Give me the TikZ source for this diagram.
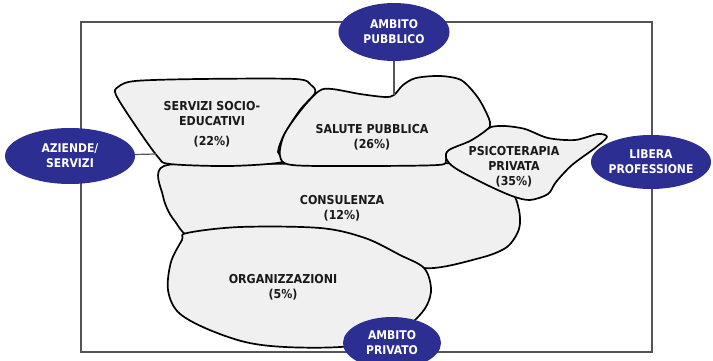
\documentclass[tikz,border=0pt]{standalone}
\usepackage{fontspec}
\setmainfont{DejaVu Sans Condensed}
\usetikzlibrary{shapes.geometric}

\definecolor{navy}{RGB}{44,46,145}
\definecolor{blobgray}{RGB}{240,240,240}
\definecolor{framegray}{RGB}{85,85,85}

\begin{document}
\begin{tikzpicture}[
    x=1pt, y=-1pt,
    blob/.style={draw=black, fill=blobgray, line width=1.7pt, line join=round},
    ambito/.style={ellipse, fill=navy, text=white, inner sep=0pt, align=center, font=\bfseries\fontsize{12}{15}\selectfont},
    lbl/.style={align=center, text=black!90, font=\bfseries\fontsize{12.3}{15}\selectfont},
    frame/.style={draw=framegray, line width=1.2pt},
    link/.style={draw=framegray, line width=1.2pt}
]
\useasboundingbox (0,0) rectangle (713,361);

% cornice
\draw[frame] (81,22) rectangle (652,352);

% aree
\filldraw[blob] plot[smooth cycle, tension=0.5] coordinates {(164,166) (250,164) (440,163) (475,168) (510,190) (519,210) (519,229) (507,247) (480,258) (424,268) (370,245) (300,232) (200,240) (174,220) (163,196)};
\filldraw[blob] plot[smooth cycle, tension=0.55] coordinates {(187,233) (240,227) (320,228) (365,238) (400,255) (424,268) (431,288) (427,305) (415,320) (390,340) (340,347) (285,347) (245,342) (205,328) (178,312) (168,290) (171,262) (182,240)};
\filldraw[blob] plot[smooth cycle, tension=0.5] coordinates {(118,87) (135,81) (200,79) (295,79) (311,85) (315,93) (300,110) (284,135) (278,152) (283,162) (230,166) (170,164) (158,157) (135,125) (116,95)};
\filldraw[blob] plot[smooth cycle, tension=0.5] coordinates {(319,91) (332,89) (360,94) (385,97) (394,95) (403,85) (416,78) (440,76) (461,80) (476,95) (485,110) (490,126) (475,140) (452,150) (446,160) (438,165) (360,166) (292,165) (280,156) (284,135) (301,110)};
\filldraw[blob] plot[smooth cycle, tension=0.5] coordinates {(449,150) (470,141) (484,132) (491,127) (505,126) (525,129) (548,138) (575,140) (598,134) (607,137) (595,148) (572,165) (556,182) (548,194) (530,200) (512,196) (485,184) (455,168) (446,158)};

% etichette
\node[lbl] (ser) at (212,124) {SERVIZI SOCIO-\\EDUCATIVI\\[5pt](22\%)};
\node[lbl] (sal) at (372,137) {SALUTE PUBBLICA\\(26\%)};
\node[lbl] (psi) at (514,167) {PSICOTERAPIA\\PRIVATA\\(35\%)};
\node[lbl] (con) at (342,208) {CONSULENZA\\(12\%)};
\node[lbl] (org) at (283,287) {ORGANIZZAZIONI\\(5\%)};

% nodi ovali
\path (394,32) node[ambito, minimum width=111pt, minimum height=58pt] (pub) {AMBITO\\PUBBLICO};
\path (70,156) node[ambito, minimum width=130pt, minimum height=56pt] (azi) {AZIENDE/\\SERVIZI};
\path (651,162) node[ambito, minimum width=120pt, minimum height=54pt] (lib) {LIBERA\\PROFESSIONE};
\path (392,343) node[ambito, minimum width=98pt, minimum height=52pt] (priv) {AMBITO\\PRIVATO};

% collegamenti
\coordinate (salTop) at (394,95);
\coordinate (serLeft) at (156,154);
\draw[link] (pub) -- (salTop);
\draw[link] (azi) -- (serLeft);
\end{tikzpicture}
\end{document}
